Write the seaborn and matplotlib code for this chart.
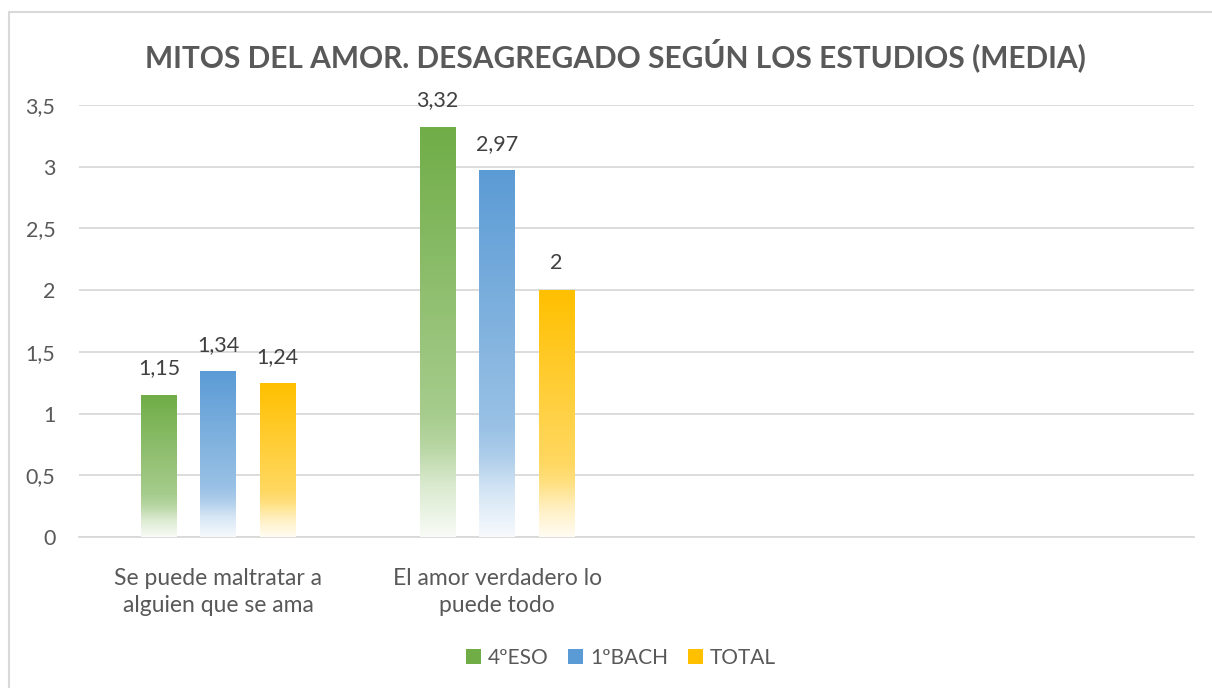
import numpy as np
import pandas as pd
import matplotlib
matplotlib.use("Agg")
import matplotlib.pyplot as plt
from matplotlib.patches import Patch
from matplotlib.lines import Line2D
from matplotlib.colors import to_rgb
import matplotlib.ticker as mticker
import seaborn as sns

# ---- data ----
categories = ["Se puede maltratar a\nalguien que se ama", "El amor verdadero lo\npuede todo", "", " "]
series = ["4ºESO", "1ºBACH", "TOTAL"]
eso_values = [1.15, 3.32]
bach_values = [1.34, 2.97]
total_values = [1.24, 2.00]
colors = ["#70AD47", "#5B9BD5", "#FFC000"]
title = "MITOS DEL AMOR. DESAGREGADO SEGÚN LOS ESTUDIOS (MEDIA)"
yticks = [0, 0.5, 1, 1.5, 2, 2.5, 3, 3.5]

rows = []
for s, vals in zip(series, [eso_values, bach_values, total_values]):
    for c, v in zip(categories[:2], vals):
        rows.append({"cat": c, "serie": s, "valor": v})
df = pd.DataFrame(rows)

sns.set_theme(style="white")
FONT = ["Lato", "DejaVu Sans"]
plt.rcParams["font.family"] = FONT
TXT = "#595959"

fig = plt.figure(figsize=(12.12, 6.88), dpi=100)
fig.patch.set_facecolor("white")
ax = fig.add_axes([79/1212, 1-537/688, (1194-79)/1212, (537-105)/688])

sns.barplot(data=df, x="cat", y="valor", hue="serie", order=categories,
            hue_order=series, palette=colors, width=0.64, gap=0.395,
            legend=False, ax=ax, saturation=1, zorder=3)

# gradient fill
def grad_img(col, n=256):
    base = np.array(to_rgb(col))
    t = np.linspace(0, 1, n)
    stops_t = [0.0, 0.12, 0.22, 0.30, 1.0]
    stops_f = [0.05, 0.25, 0.50, 0.62, 1.0]
    f = np.interp(t, stops_t, stops_f)
    rgb = 1 - f[:, None] * (1 - base[None, :])
    return rgb[:, None, :]

for patch in ax.patches:
    h = patch.get_height()
    if not np.isfinite(h) or h <= 0:
        continue
    x0 = patch.get_x(); w = patch.get_width()
    col = patch.get_facecolor()
    ax.imshow(grad_img(col), extent=[x0, x0 + w, 0, h], origin="lower",
              aspect="auto", zorder=3, interpolation="bilinear")
    patch.set_facecolor("none")
    patch.set_edgecolor("none")

for cont in ax.containers:
    labels = [("%g" % b.get_height()).replace(".", ",") if np.isfinite(b.get_height()) and b.get_height() > 0 else "" for b in cont]
    ax.bar_label(cont, labels=labels, padding=12, fontsize=15.5, color="#404040", family=FONT)

ax.set_xlim(-0.5, 3.5)
ax.set_ylim(0, 3.5)
ax.set_yticks(yticks)
ax.yaxis.set_major_formatter(mticker.FuncFormatter(lambda v, p: ("%g" % v).replace(".", ",")))
ax.grid(axis="y", color="#D9D9D9", linewidth=1.3, zorder=0)
ax.grid(axis="x", visible=False)
for s in ["top", "right", "left"]:
    ax.spines[s].set_visible(False)
ax.spines["bottom"].set_color("#D9D9D9")
ax.spines["bottom"].set_linewidth(1.3)
ax.tick_params(axis="y", length=0, pad=17, labelsize=15.5, labelcolor=TXT)
ax.tick_params(axis="x", length=0, pad=22, labelsize=16.5, labelcolor=TXT)
for lab in ax.get_xticklabels():
    lab.set_linespacing(1.35)
ax.set_xlabel("")
ax.set_ylabel("")

fig.text(615/1212, 1-55/688, title, ha="center", va="center", fontsize=21.5,
         fontweight="bold", color=TXT, family=FONT)

handles = [Patch(facecolor=c, edgecolor="none") for c in colors]
fig.legend(handles, series, loc="center", bbox_to_anchor=(621/1212, 1-658/688), ncol=3,
           frameon=False, fontsize=15, labelcolor=TXT, handlelength=0.7, handleheight=0.7,
           handletextpad=0.35, columnspacing=0.95)

# chart border (left and top)
fig.add_artist(Line2D([9/1212, 9/1212], [0, 1-12/688], color="#D9D9D9", linewidth=1.5))
fig.add_artist(Line2D([9/1212, 1], [1-12/688, 1-12/688], color="#D9D9D9", linewidth=1.5))

fig.savefig("out.png", dpi=100)
